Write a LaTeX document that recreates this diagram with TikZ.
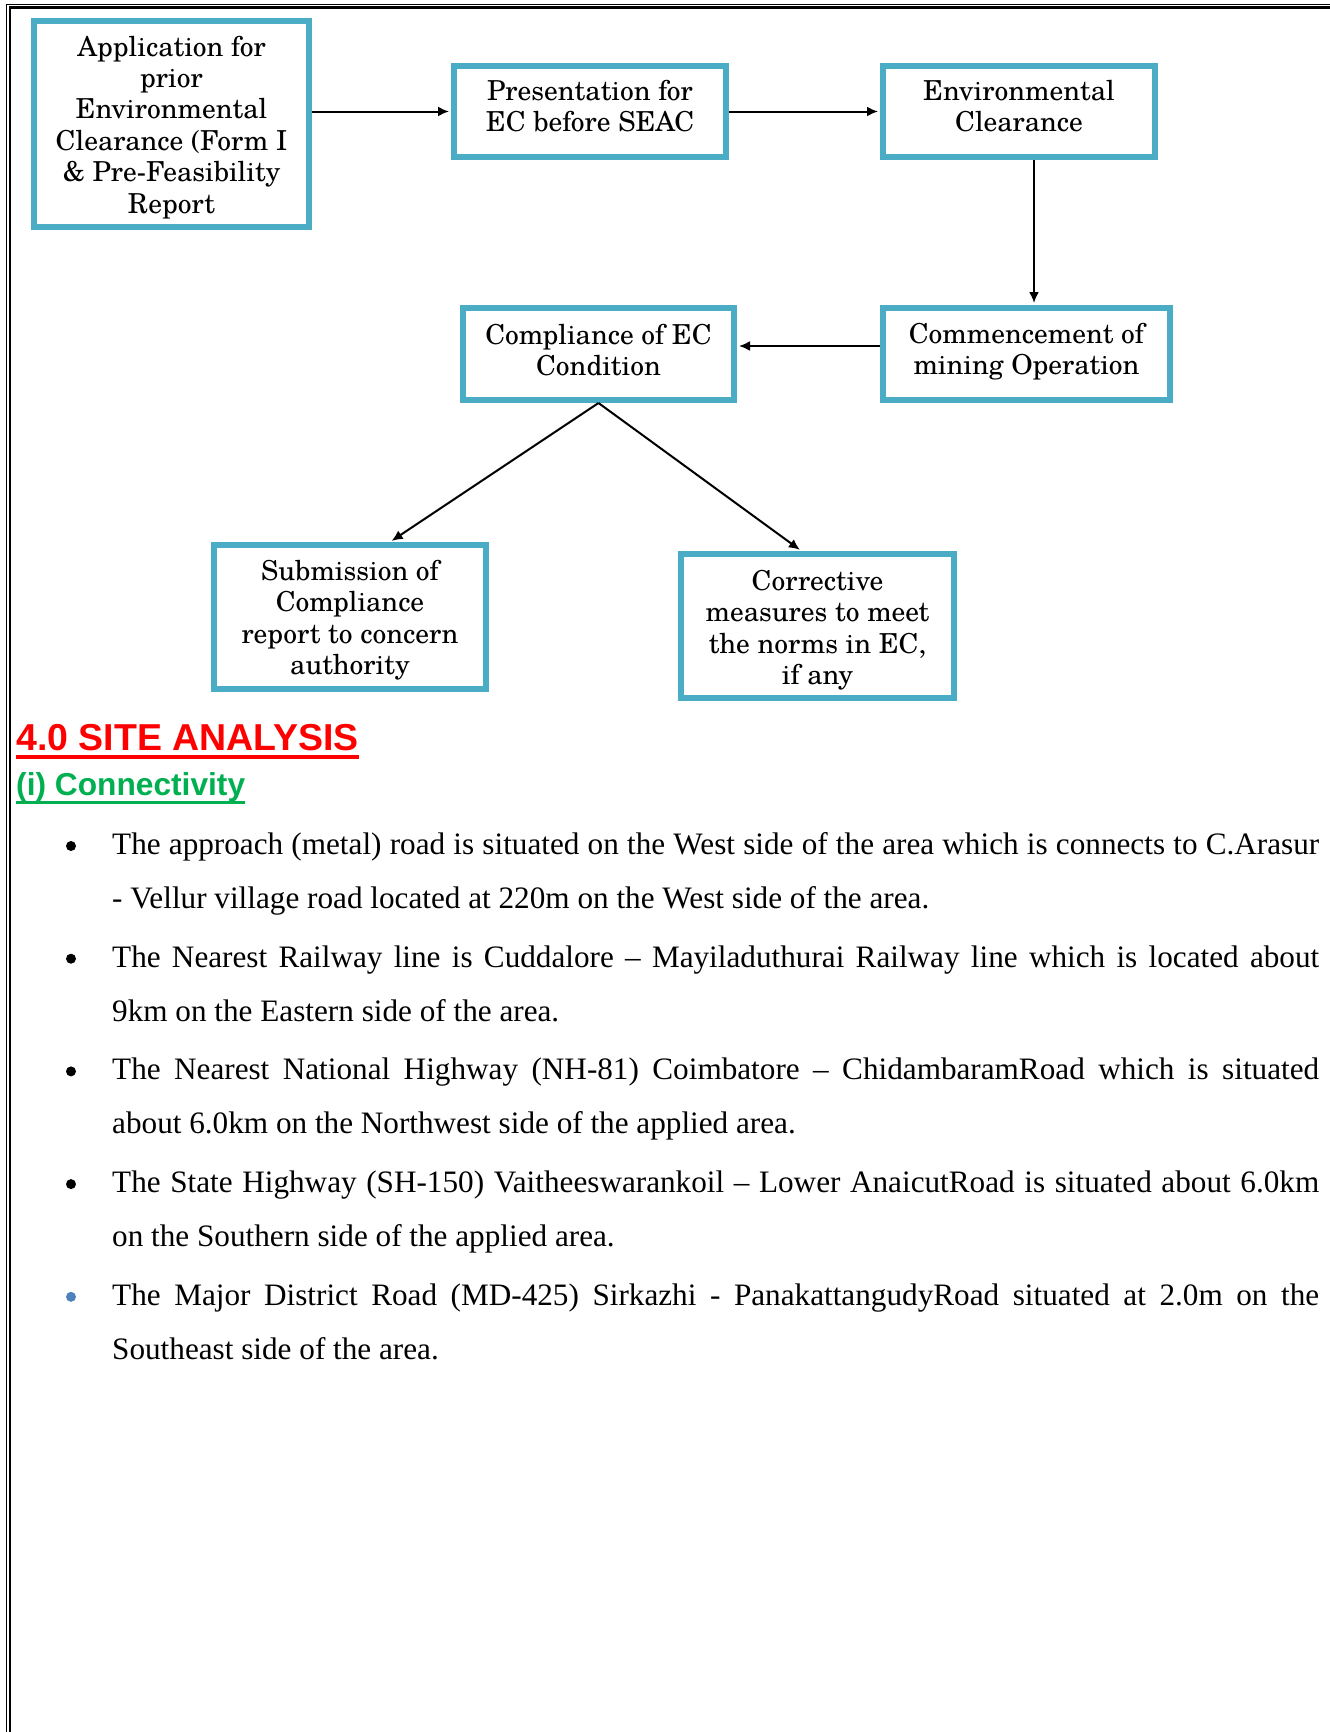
\documentclass[tikz,border=0pt]{standalone}
\usepackage{fontspec}
\setmainfont{Liberation Serif}
\newfontfamily\headfont{Liberation Sans}
\newfontfamily\scholafont{TeX Gyre Schola}
\usetikzlibrary{arrows.meta}

\definecolor{ecblue}{HTML}{4BACC6}
\definecolor{headred}{HTML}{FF0000}
\definecolor{headgreen}{HTML}{00B050}
\definecolor{dotblue}{HTML}{4F81BD}

\newcommand{\stagefont}{\scholafont\fontsize{27.5}{31.4}\selectfont}
\newcommand{\bodyfont}{\fontsize{31.2}{54}\selectfont\hyphenpenalty=10000\exhyphenpenalty=10000}

\begin{document}
\begin{tikzpicture}[x=1pt, y=-1pt,
        stage/.style={draw=ecblue, line width=6pt, fill=white, align=center, inner sep=0pt, font=\stagefont},
        flow/.style={line width=2pt, -{Latex[length=11pt,width=10pt]}, shorten >=2pt},
        item/.style={anchor=base west, inner sep=0pt, text width=1207pt, align=justify, font=\bodyfont},
        dot/.style={circle, fill, inner sep=0pt, minimum size=10pt}
    ]
        \useasboundingbox (0,0) rectangle (1330,1732);

        % Page frame (double line on the left and on top)
        \draw[line width=1.2pt] (6.5,1732) -- (6.5,4.5) -- (1330,4.5);
        \draw[line width=2.8pt] (10,1732) -- (10,7.5) -- (1330,7.5);

        % Flow chart boxes
        \node[stage, minimum width=275pt, minimum height=206pt, text height=184pt, text depth=5.9pt] (app) at (171.5,124)
            {Application for\\prior\\Environmental\\Clearance (Form I\\\& Pre-Feasibility\\Report};
        \node[stage, minimum width=272pt, minimum height=91pt, text height=51.8pt, text depth=11pt] (pres) at (590,111.5)
            {Presentation for\\EC before SEAC};
        \node[stage, minimum width=272pt, minimum height=91pt, text height=51.8pt, text depth=11pt] (envc) at (1019,111.5)
            {Environmental\\Clearance};
        \node[stage, minimum width=271pt, minimum height=92pt, text height=51.8pt, text depth=8.8pt] (compl) at (598.5,354)
            {Compliance of EC\\Condition};
        \node[stage, minimum width=287pt, minimum height=92pt, text height=51.8pt, text depth=10.3pt] (comm) at (1026.5,354)
            {Commencement of\\mining Operation};
        \node[stage, minimum width=272pt, minimum height=144pt, text height=121.2pt, text depth=5.9pt] (subm) at (350,617)
            {Submission of\\Compliance\\report to concern\\authority};
        \node[stage, minimum width=273pt, minimum height=144pt, text height=123.4pt, text depth=5.9pt] (corr) at (817.5,626)
            {Corrective\\measures to meet\\the norms in EC,\\if any};

        % Arrows between the boxes
        \draw[flow] (app.east |- pres.west) -- (pres.west);
        \draw[flow] (pres.east) -- (envc.west);
        \draw[flow] ([xshift=15pt]envc.south) -- ([xshift=15pt]envc.south |- comm.north);
        \draw[flow] ([yshift=8pt]comm.west) -- ([yshift=8pt]compl.east);
        \draw[flow] (compl.south) -- ([xshift=40pt]subm.north);
        \draw[flow] (compl.south) -- ([xshift=-16pt]corr.north);

        % Headings
        \node[anchor=base west, inner sep=0pt, text=headred, font={\headfont\bfseries\fontsize{37.5}{40}\selectfont}] (sitehead) at (16,750) {4.0 SITE ANALYSIS};
        \draw[headred, line width=3.2pt] ([yshift=-7pt]sitehead.base west) -- ([yshift=-7pt]sitehead.base east);
        \node[anchor=base west, inner sep=0pt, text=headgreen, font={\headfont\bfseries\fontsize{31.7}{36}\selectfont}] (connhead) at (16,795) {(i) Connectivity};
        \draw[headgreen, line width=3pt] ([yshift=-7.5pt]connhead.base west) -- ([yshift=-7.5pt]connhead.base east);

        % Bullet list
        \node[dot] (d1) at (71,846) {};
        \node[item] (p1) at (112,854.4) {The approach (metal) road is situated on the West side of the area which is connects to C.Arasur\linebreak - Vellur village road located at 220m on the West side of the area.};
        \node[dot] (d2) at (71,958.7) {};
        \node[item] (p2) at (112,967.1) {The Nearest Railway line is Cuddalore – Mayiladuthurai Railway line which is located about\linebreak 9km on the Eastern side of the area.};
        \node[dot] (d3) at (71,1071.4) {};
        \node[item] (p3) at (112,1079.8) {The Nearest National Highway (NH-81) Coimbatore – ChidambaramRoad which is situated\linebreak about 6.0km on the Northwest side of the applied area.};
        \node[dot] (d4) at (71,1184.1) {};
        \node[item] (p4) at (112,1192.5) {The State Highway (SH-150) Vaitheeswarankoil – Lower AnaicutRoad is situated about 6.0km\linebreak on the Southern side of the applied area.};
        \node[dot, fill=dotblue] (d5) at (71,1296.8) {};
        \node[item] (p5) at (112,1305.2) {The Major District Road (MD-425) Sirkazhi - PanakattangudyRoad situated at 2.0m on the\linebreak Southeast side of the area.};
\end{tikzpicture}
\end{document}
